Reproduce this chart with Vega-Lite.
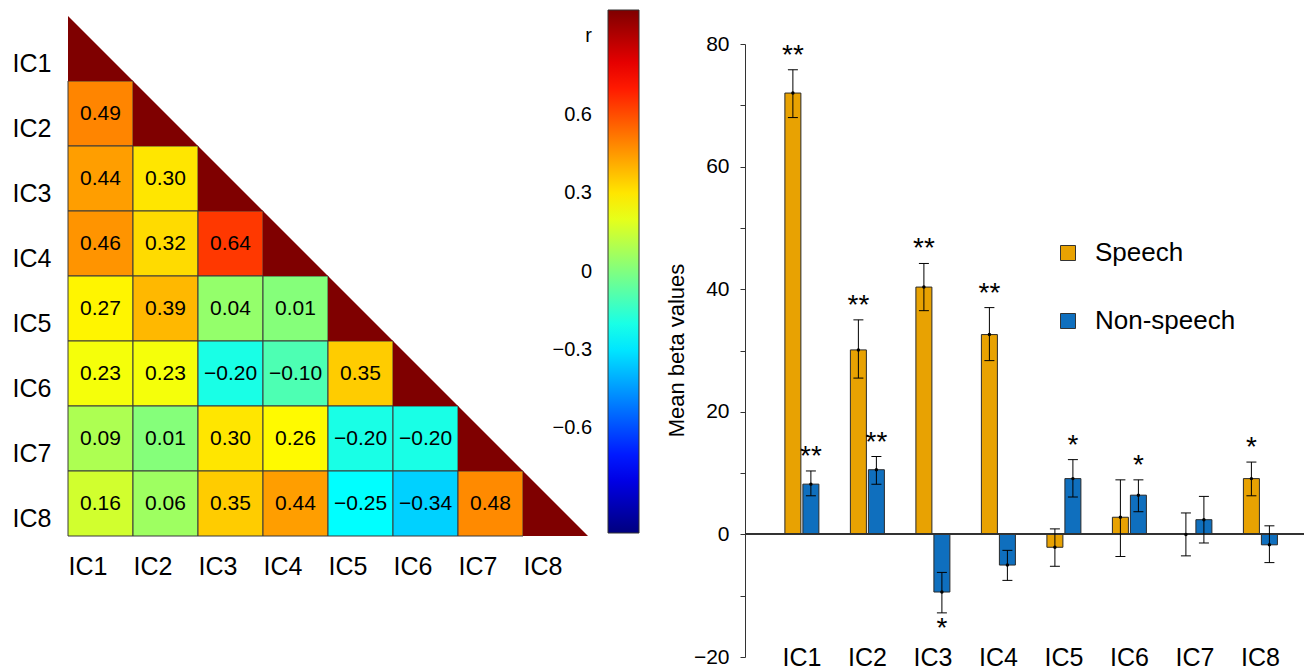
{
  "$schema": "https://vega.github.io/schema/vega-lite/v6.json",
  "background": "#ffffff",
  "padding": {"left": 12, "top": 10, "right": 0, "bottom": 0},
  "bounds": "flush",
  "spacing": 157,
  "config": {
    "font": "Liberation Sans",
    "view": {"stroke": null},
    "axis": {"grid": false, "labelColor": "#000", "titleColor": "#000"}
  },
  "datasets": {
    "corr": [
      {"row": "IC2", "col": "IC1", "r": 0.49},
      {"row": "IC3", "col": "IC1", "r": 0.44},
      {"row": "IC3", "col": "IC2", "r": 0.30},
      {"row": "IC4", "col": "IC1", "r": 0.46},
      {"row": "IC4", "col": "IC2", "r": 0.32},
      {"row": "IC4", "col": "IC3", "r": 0.64},
      {"row": "IC5", "col": "IC1", "r": 0.27},
      {"row": "IC5", "col": "IC2", "r": 0.39},
      {"row": "IC5", "col": "IC3", "r": 0.04},
      {"row": "IC5", "col": "IC4", "r": 0.01},
      {"row": "IC6", "col": "IC1", "r": 0.23},
      {"row": "IC6", "col": "IC2", "r": 0.23},
      {"row": "IC6", "col": "IC3", "r": -0.20},
      {"row": "IC6", "col": "IC4", "r": -0.10},
      {"row": "IC6", "col": "IC5", "r": 0.35},
      {"row": "IC7", "col": "IC1", "r": 0.09},
      {"row": "IC7", "col": "IC2", "r": 0.01},
      {"row": "IC7", "col": "IC3", "r": 0.30},
      {"row": "IC7", "col": "IC4", "r": 0.26},
      {"row": "IC7", "col": "IC5", "r": -0.20},
      {"row": "IC7", "col": "IC6", "r": -0.20},
      {"row": "IC8", "col": "IC1", "r": 0.16},
      {"row": "IC8", "col": "IC2", "r": 0.06},
      {"row": "IC8", "col": "IC3", "r": 0.35},
      {"row": "IC8", "col": "IC4", "r": 0.44},
      {"row": "IC8", "col": "IC5", "r": -0.25},
      {"row": "IC8", "col": "IC6", "r": -0.34},
      {"row": "IC8", "col": "IC7", "r": 0.48}
    ],
    "diag": [
      {"row": "IC1", "col": "IC1", "r": 1},
      {"row": "IC2", "col": "IC2", "r": 1},
      {"row": "IC3", "col": "IC3", "r": 1},
      {"row": "IC4", "col": "IC4", "r": 1},
      {"row": "IC5", "col": "IC5", "r": 1},
      {"row": "IC6", "col": "IC6", "r": 1},
      {"row": "IC7", "col": "IC7", "r": 1},
      {"row": "IC8", "col": "IC8", "r": 1}
    ],
    "beta": [
      {"ic": "IC1", "cond": "Speech", "mean": 72.0, "lo": 68.0, "hi": 75.8, "sig": "**", "pos": "above"},
      {"ic": "IC1", "cond": "Non-speech", "mean": 8.2, "lo": 6.3, "hi": 10.35, "sig": "**", "pos": "above"},
      {"ic": "IC2", "cond": "Speech", "mean": 30.1, "lo": 25.5, "hi": 35.0, "sig": "**", "pos": "above"},
      {"ic": "IC2", "cond": "Non-speech", "mean": 10.55, "lo": 8.2, "hi": 12.7, "sig": "**", "pos": "above"},
      {"ic": "IC3", "cond": "Speech", "mean": 40.35, "lo": 36.5, "hi": 44.2, "sig": "**", "pos": "above"},
      {"ic": "IC3", "cond": "Non-speech", "mean": -9.4, "lo": -12.8, "hi": -6.2, "sig": "*", "pos": "below"},
      {"ic": "IC4", "cond": "Speech", "mean": 32.6, "lo": 28.35, "hi": 37.0, "sig": "**", "pos": "above"},
      {"ic": "IC4", "cond": "Non-speech", "mean": -5.0, "lo": -7.5, "hi": -2.6, "sig": "", "pos": "none"},
      {"ic": "IC5", "cond": "Speech", "mean": -2.1, "lo": -5.2, "hi": 0.9, "sig": "", "pos": "none"},
      {"ic": "IC5", "cond": "Non-speech", "mean": 9.1, "lo": 6.1, "hi": 12.2, "sig": "*", "pos": "above"},
      {"ic": "IC6", "cond": "Speech", "mean": 2.8, "lo": -3.6, "hi": 8.9, "sig": "", "pos": "none"},
      {"ic": "IC6", "cond": "Non-speech", "mean": 6.4, "lo": 3.7, "hi": 8.9, "sig": "*", "pos": "above"},
      {"ic": "IC7", "cond": "Speech", "mean": 0.0, "lo": -3.5, "hi": 3.5, "sig": "", "pos": "none"},
      {"ic": "IC7", "cond": "Non-speech", "mean": 2.4, "lo": -1.4, "hi": 6.2, "sig": "", "pos": "none"},
      {"ic": "IC8", "cond": "Speech", "mean": 9.1, "lo": 6.3, "hi": 11.8, "sig": "*", "pos": "above"},
      {"ic": "IC8", "cond": "Non-speech", "mean": -1.7, "lo": -4.6, "hi": 1.4, "sig": "", "pos": "none"}
    ]
  },
  "hconcat": [
    {
      "width": 520,
      "height": 520,
      "layer": [
        {
          "data": {"name": "corr"},
          "mark": {"type": "rect", "stroke": "#3a3a3a", "strokeWidth": 1},
          "encoding": {
            "x": {"field": "col", "type": "ordinal",
              "scale": {"domain": ["IC1","IC2","IC3","IC4","IC5","IC6","IC7","IC8"], "paddingInner": 0, "paddingOuter": 0},
              "axis": {"title": null, "domain": false, "ticks": false, "labelFontSize": 25, "labelAlign": "left", "labelOffset": -32, "labelPadding": 18, "labelAngle": 0}},
            "y": {"field": "row", "type": "ordinal",
              "scale": {"domain": ["IC1","IC2","IC3","IC4","IC5","IC6","IC7","IC8"], "paddingInner": 0, "paddingOuter": 0},
              "axis": {"title": null, "domain": false, "ticks": false, "labelFontSize": 25, "labelPadding": 17, "labelOffset": 15}},
            "color": {"field": "r", "type": "quantitative",
              "scale": {"type": "linear", "domain": [-1, -0.75, -0.25, 0.25, 0.75, 1], "range": ["#00007f", "#0000ff", "#00ffff", "#ffff00", "#ff0000", "#7f0000"], "interpolate": "rgb"},
              "legend": {"type": "gradient", "orient": "none", "legendX": 540, "legendY": -6, "direction": "vertical", "title": null, "padding": 0,
                "gradientLength": 523, "gradientThickness": 31, "gradientStrokeColor": "#333", "gradientStrokeWidth": 1,
                "values": [-0.6, -0.3, 0, 0.3, 0.6, 0.9], "format": ".1~f",
                "labelExpr": "datum.value > 0.8 ? 'r' : datum.label",
                "labelFontSize": 20, "labelColor": "#000", "labelOffset": -47, "labelAlign": "right", "labelOverlap": false,
                "encode": {"labels": {"update": {"align": {"value": "right"}}}}}}
          }
        },
        {
          "data": {"name": "diag"},
          "mark": {"type": "point", "shape": "M -1 -1 L -1 1 L 1 1 Z", "size": 4225, "filled": true, "opacity": 1, "strokeWidth": 0},
          "encoding": {
            "x": {"field": "col", "type": "ordinal"},
            "y": {"field": "row", "type": "ordinal"},
            "color": {"field": "r", "type": "quantitative"}
          }
        },
        {
          "data": {"name": "corr"},
          "mark": {"type": "text", "fontSize": 21, "color": "#000"},
          "encoding": {
            "x": {"field": "col", "type": "ordinal"},
            "y": {"field": "row", "type": "ordinal"},
            "text": {"field": "r", "type": "quantitative", "format": ".2f"}
          }
        }
      ]
    },
    {
      "width": 559,
      "height": 641,
      "data": {"name": "beta"},
      "layer": [
        {
          "mark": {"type": "bar", "stroke": "#2a2a2a", "strokeWidth": 1},
          "encoding": {
            "x": {"field": "ic", "type": "nominal",
              "scale": {"domain": ["IC1","IC2","IC3","IC4","IC5","IC6","IC7","IC8"], "paddingInner": 0, "paddingOuter": 0.267, "align": 0.69},
              "axis": {"title": null, "domain": false, "ticks": false, "labelFontSize": 25, "labelAngle": 0, "labelBaseline": "alphabetic", "labelPadding": 8}},
            "xOffset": {"field": "cond", "type": "nominal", "scale": {"domain": ["Speech", "Non-speech"], "paddingInner": 0.111, "paddingOuter": 0.875}},
            "y": {"field": "mean", "type": "quantitative",
              "scale": {"domain": [-20, 84.57], "nice": false},
              "axis": {"title": "Mean beta values", "titleFontSize": 22, "titleFontWeight": "normal", "titlePadding": 5, "titleY": 334,
                "values": [-20, -10, 0, 10, 20, 30, 40, 50, 60, 70, 80],
                "labelExpr": "datum.value % 20 === 0 ? datum.label : ''",
                "labelFontSize": 21, "labelPadding": 11, "tickSize": 5, "tickColor": "#333", "domainColor": "#333", "domainDash": [613, 200]}},
            "color": {"field": "cond", "type": "nominal",
              "scale": {"domain": ["Speech", "Non-speech"], "range": ["#E8A202", "#0F6FBE"]},
              "legend": {"orient": "none", "legendX": 310, "legendY": 224, "title": null, "padding": 0, "symbolType": "square", "symbolSize": 225,
                "symbolStrokeColor": "#333", "symbolStrokeWidth": 1, "labelFontSize": 26, "labelColor": "#000", "labelOffset": 14, "rowPadding": 42}}
          }
        },
        {
          "mark": {"type": "rule", "color": "#333", "strokeWidth": 1.2},
          "encoding": {"y": {"datum": 0, "type": "quantitative"}}
        },
        {
          "mark": {"type": "rule", "color": "#000", "strokeWidth": 1},
          "encoding": {
            "x": {"field": "ic", "type": "nominal"},
            "xOffset": {"field": "cond", "type": "nominal"},
            "y": {"field": "lo", "type": "quantitative"},
            "y2": {"field": "hi"}
          }
        },
        {
          "mark": {"type": "tick", "orient": "horizontal", "size": 10, "thickness": 1, "color": "#000", "opacity": 1},
          "encoding": {
            "x": {"field": "ic", "type": "nominal"},
            "xOffset": {"field": "cond", "type": "nominal"},
            "y": {"field": "hi", "type": "quantitative"}
          }
        },
        {
          "mark": {"type": "tick", "orient": "horizontal", "size": 10, "thickness": 1, "color": "#000", "opacity": 1},
          "encoding": {
            "x": {"field": "ic", "type": "nominal"},
            "xOffset": {"field": "cond", "type": "nominal"},
            "y": {"field": "lo", "type": "quantitative"}
          }
        },
        {
          "mark": {"type": "point", "filled": true, "size": 12, "color": "#000", "opacity": 1},
          "encoding": {
            "x": {"field": "ic", "type": "nominal"},
            "xOffset": {"field": "cond", "type": "nominal"},
            "y": {"field": "mean", "type": "quantitative"}
          }
        },
        {
          "transform": [{"filter": "datum.pos === 'above'"}],
          "mark": {"type": "text", "fontSize": 28, "baseline": "alphabetic", "dy": -6, "color": "#000"},
          "encoding": {
            "x": {"field": "ic", "type": "nominal"},
            "xOffset": {"field": "cond", "type": "nominal"},
            "y": {"field": "hi", "type": "quantitative"},
            "text": {"field": "sig"}
          }
        },
        {
          "transform": [{"filter": "datum.pos === 'below'"}],
          "mark": {"type": "text", "fontSize": 28, "baseline": "alphabetic", "dy": 24, "color": "#000"},
          "encoding": {
            "x": {"field": "ic", "type": "nominal"},
            "xOffset": {"field": "cond", "type": "nominal"},
            "y": {"field": "lo", "type": "quantitative"},
            "text": {"field": "sig"}
          }
        }
      ]
    }
  ]
}
